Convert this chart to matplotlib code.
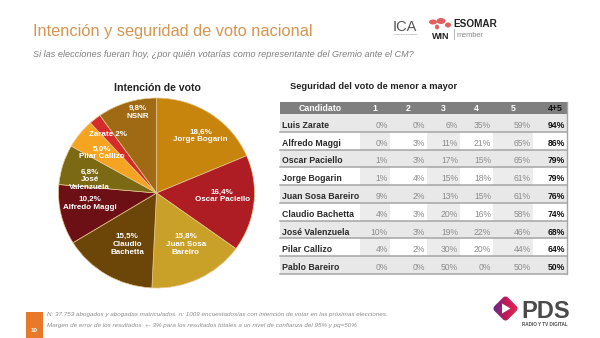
import matplotlib
matplotlib.use("Agg")
import matplotlib.pyplot as plt
import numpy as np
from matplotlib.patches import Rectangle, Polygon, Ellipse
from matplotlib.colors import LinearSegmentedColormap

# Intención de voto (torta)
pie_nombres = ["Jorge Bogarin", "Oscar Paciello", "Juan Sosa\nBareiro", "Claudio\nBachetta",
               "Alfredo Maggi", "José\nValenzuela", "Pilar Callizo", "Zarate", "NSNR"]
pie_valores = [18.6, 16.4, 15.8, 15.5, 10.2, 6.8, 5.0, 2.0, 9.8]

# Seguridad del voto (tabla)
tabla_nombres = ["Luis Zarate", "Alfredo Maggi", "Oscar Paciello", "Jorge Bogarin",
                 "Juan Sosa Bareiro", "Claudio Bachetta", "José Valenzuela",
                 "Pilar Callizo", "Pablo Bareiro"]
tabla_columnas = ["Candidato", "1", "2", "3", "4", "5", "4+5"]
seg_1 = [0, 0, 1, 1, 9, 4, 10, 4, 0]
seg_2 = [0, 3, 3, 4, 2, 3, 3, 2, 0]
seg_3 = [6, 11, 17, 15, 13, 20, 19, 30, 50]
seg_4 = [35, 21, 15, 18, 15, 16, 22, 20, 0]
seg_5 = [59, 65, 65, 61, 61, 58, 46, 44, 50]
seg_45 = [94, 86, 79, 79, 76, 74, 68, 64, 50]

pie_colores = ["#c8850e", "#ae1d24", "#c9a028", "#6c4608", "#6c1015",
               "#7b6913", "#f5a422", "#d42b2b", "#a06a14"]
# posiciones de las etiquetas dentro de la torta (radio = 1)
label_xy = [(0.45, 0.60), (0.67, -0.03), (0.30, -0.54), (-0.30, -0.54), (-0.68, -0.11),
            (-0.68, 0.14), (-0.56, 0.42), (-0.49, 0.62), (-0.19, 0.85)]

SANS = ["Liberation Sans", "DejaVu Sans"]

fig = plt.figure(figsize=(6, 3.38), dpi=100)
fig.patch.set_facecolor("white")

# capa de fondo en pixeles para textos, tabla y logos
ax = fig.add_axes([0, 0, 1, 1])
ax.set_xlim(0, 600)
ax.set_ylim(338, 0)
ax.axis("off")

ax.text(33, 36, "Intención y seguridad de voto nacional", fontsize=11.8, color="#d69550",
        family=SANS, va="baseline")
ax.text(33, 57, "Si las elecciones fueran hoy, ¿por quién votarías como representante del Gremio ante el CM?",
        fontsize=6.6, color="#7f7f7f", style="italic", family=SANS, va="baseline")

# logos
ax.text(393, 31, "ICA", fontsize=10.5, color="#555555", family=SANS, va="baseline")
ax.text(394, 35, "Consultoría Estratégica", fontsize=1.6, color="#777777", family=SANS)
for (ex, ey, ew, eh) in [(433, 22, 8, 5), (441, 21, 9, 6), (448, 25, 6, 5), (437, 27, 4, 5)]:
    ax.add_patch(Ellipse((ex, ey), ew, eh, color="#e06060", lw=0))
ax.text(441, 39, "WIN", fontsize=6.5, color="#222222", weight="bold", family=SANS,
        ha="center", va="baseline")
ax.text(453, 27, "ESOMAR", fontsize=7.2, color="#222222", weight="bold", family=SANS, va="baseline")
ax.plot([454, 454], [29, 39], color="#999999", lw=0.5)
ax.text(457, 37, "member", fontsize=5.3, color="#888888", family=SANS, va="baseline")

# títulos de las secciones
ax.text(157, 91, "Intención de voto", fontsize=7.6, weight="bold", family=SANS,
        color="#222222", ha="center", va="baseline")
ax.text(290, 89, "Seguridad del voto de menor a mayor", fontsize=6.7, weight="bold",
        family=SANS, color="#222222", va="baseline")

# tabla
col_edges = [280, 360, 390, 427, 460, 493, 533, 567]
top, head_bottom, bottom = 102, 114, 274
n_rows = len(tabla_nombres)
row_h = (bottom - head_bottom) / n_rows
gris_fila = "#e8e8e8"

ax.add_patch(Rectangle((col_edges[0], top), col_edges[-1] - col_edges[0], head_bottom - top,
                       color="#7f7f7f", lw=0))
for j, col in enumerate(tabla_columnas):
    cx = (col_edges[j] + col_edges[j + 1]) / 2
    if col == "4+5":
        cx += 5
    ax.text(cx, (top + head_bottom) / 2 + 0.5, col, fontsize=6.3, weight="bold", family=SANS,
            color="#111111" if col == "4+5" else "white", ha="center", va="center")

columnas = [seg_1, seg_2, seg_3, seg_4, seg_5, seg_45]
for i, nombre in enumerate(tabla_nombres):
    y0 = head_bottom + i * row_h
    if i % 2 == 0:
        ax.add_patch(Rectangle((col_edges[0], y0), col_edges[-1] - col_edges[0], row_h,
                               color=gris_fila, lw=0))
    else:
        for j in (1, 3, 5):
            ax.add_patch(Rectangle((col_edges[j], y0), col_edges[j + 1] - col_edges[j], row_h,
                                   color="#ececec", lw=0))
    yc = y0 + row_h / 2 + 2.5
    ax.text(282, yc, nombre, fontsize=6.3, weight="bold", family=SANS, color="#2a2a2a",
            va="center")
    for j, serie in enumerate(columnas):
        ultima = j == len(columnas) - 1
        ax.text(col_edges[j + 2] - 2, yc, f"{serie[i]}%", fontsize=6.2, family=SANS,
                weight="bold" if ultima else "normal",
                color="#111111" if ultima else "#8c8c8c", ha="right", va="center")
    ax.plot([col_edges[0], col_edges[-1]], [y0 + row_h, y0 + row_h], color="#a5a5a5", lw=1.1)
ax.plot([col_edges[-1], col_edges[-1]], [top, bottom], color="#a5a5a5", lw=1.0)

# pie de página
ax.add_patch(Rectangle((26, 312), 17, 26, color="#e8782a", lw=0))
ax.text(34.5, 330, "10", fontsize=4.5, color="white", weight="bold", family=SANS,
        ha="center", va="center")
ax.text(47, 316, "N: 37.753 abogados y abogadas matriculados. n: 1009 encuestados/as con intención "
        "de votar en las próximas elecciones.", fontsize=4.5, style="italic", color="#8a8a8a",
        family=SANS, va="baseline")
ax.text(47, 327, "Margen de error de los resultados: +- 3% para los resultados totales a un nivel "
        "de confianza del 95% y pq=50%", fontsize=4.5, style="italic", color="#8a8a8a",
        family=SANS, va="baseline")

# logo PDS: rombo redondeado con degradado
cx, cy, s, rc = 505.5, 308.5, 9.5, 3.5
t = np.linspace(0, np.pi / 2, 8)
pts = []
for kx, ky, a0 in [(1, 1, 0), (-1, 1, np.pi / 2), (-1, -1, np.pi), (1, -1, 1.5 * np.pi)]:
    ccx, ccy = kx * (s - rc), ky * (s - rc)
    pts += [(ccx + rc * np.cos(a0 + tt), ccy + rc * np.sin(a0 + tt)) for tt in t]
pts = np.array(pts)
rot = np.array([[np.cos(np.pi / 4), -np.sin(np.pi / 4)], [np.sin(np.pi / 4), np.cos(np.pi / 4)]])
pts = pts @ rot.T + [cx, cy]
rombo = Polygon(pts, closed=True, fc="none", ec="none")
ax.add_patch(rombo)
grad_cmap = LinearSegmentedColormap.from_list("pds", ["#5b2d8c", "#c2185b", "#ef2a4a"])
grad = np.linspace(0, 1, 64)[None, :]
img = ax.imshow(grad, cmap=grad_cmap, extent=(cx - 14, cx + 14, cy + 14, cy - 14),
                aspect="auto", zorder=2)
img.set_clip_path(rombo)
ax.add_patch(Polygon([(cx - 3.5, cy - 5), (cx - 3.5, cy + 5), (cx + 5, cy)], closed=True,
                     fc="white", ec="none", zorder=3))
ax.text(521, 318, "PDS", fontsize=17, weight="bold", color="#4a4a4a", family=SANS, va="baseline")
ax.text(522, 326, "RADIO Y TV DIGITAL", fontsize=3.3, weight="bold", color="#4a4a4a",
        family=SANS, va="baseline")
ax.set_xlim(0, 600)
ax.set_ylim(338, 0)

# torta de intención de voto (levemente más ancha que alta)
PCX, PCY, RX, RY = 156.5, 193, 98, 95
pie_ax = fig.add_axes([(PCX - RX) / 600, (338 - PCY - RY) / 338, 2 * RX / 600, 2 * RY / 338])
pie_ax.pie(pie_valores, colors=pie_colores, startangle=90, counterclock=False,
           wedgeprops=dict(edgecolor="#e9c990", linewidth=0.5))
pie_ax.set_aspect("auto")
pie_ax.set_xlim(-1, 1)
pie_ax.set_ylim(-1, 1)
for nombre, valor, (lx, ly) in zip(pie_nombres, pie_valores, label_xy):
    if nombre == "Zarate":
        txt = f"{nombre} {valor:g}%"
    else:
        txt = f"{valor:.1f}%".replace(".", ",") + "\n" + nombre
    pie_ax.text(lx, ly, txt, fontsize=5.8, weight="bold", color="white", family=SANS,
                ha="center", va="center", linespacing=1.15, clip_on=False)

fig.savefig("out.png", dpi=100, facecolor="white")
